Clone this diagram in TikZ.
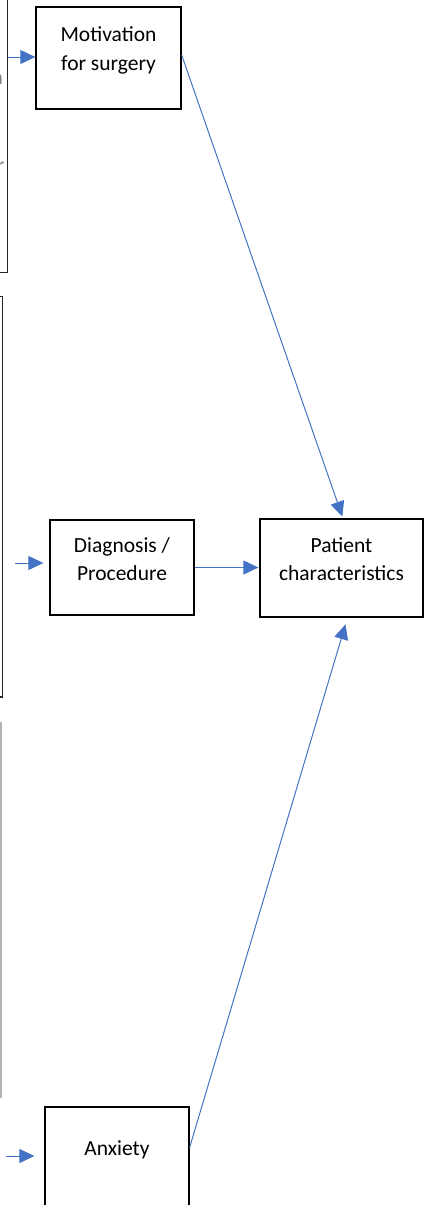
\documentclass[tikz,border=0pt]{standalone}
\usepackage{fontspec}
\setmainfont{Carlito}
\usetikzlibrary{arrows.meta}
\definecolor{arrowblue}{HTML}{4472C4}
\definecolor{fraggray}{HTML}{7F7F7F}
\tikzset{
  box/.style={draw=black, line width=1.3pt, rectangle, inner sep=0pt},
  lbl/.style={font=\fontsize{21.5pt}{29pt}\selectfont, inner sep=0pt, anchor=base},
  frag/.style={font=\fontsize{21.5pt}{29pt}\selectfont, text=fraggray, inner sep=0pt, anchor=base east},
  link/.style={draw=arrowblue, line width=1pt, -{Triangle[length=15pt,width=14pt]}},
  edgebox/.style={draw=black!85, line width=1.3pt},
  edgegray/.style={draw=black!30, line width=1.3pt}
}
\begin{document}
\begin{tikzpicture}[x=1pt,y=-1pt]
\useasboundingbox (0,0) rectangle (425,1205);

% partially visible boxes at the left edge
\draw[edgebox] (7.5,-5) -- (7.5,272.5) -- (-50,272.5);
\draw[edgebox] (-50,296.5) -- (2.5,296.5) -- (2.5,697) -- (-50,697);
\draw[edgegray] (1,722) -- (1,1098);
\node[frag] (fragA) at (3,84) {a};
\node[frag] (fragR) at (4.5,172) {r};

% main boxes
\node[box, minimum width=145pt, minimum height=102pt] (motiv) at (108.5,58) {};
\node[lbl] (motivA) at (108.5,41) {Motivation};
\node[lbl] (motivB) at (108.5,70) {for surgery};

\node[box, minimum width=144pt, minimum height=95pt] (diag) at (122,567.5) {};
\node[lbl] (diagA) at (122,552) {Diagnosis /};
\node[lbl] (diagB) at (122,580) {Procedure};

\node[box, minimum width=163pt, minimum height=98pt] (pat) at (341.5,568) {};
\node[lbl] (patA) at (341.5,552) {Patient};
\node[lbl] (patB) at (341.5,580) {characteristics};

\node[box, minimum width=144pt, minimum height=120pt] (anx) at (117,1167) {};
\node[lbl] (anxA) at (117,1155) {Anxiety};

% free ends of incoming arrows
\coordinate (inA) at (8,57);
\coordinate (inB) at (15,563);
\coordinate (inC) at (6,1156);

% connectors
\draw[link] (inA) -- (inA -| motiv.west);
\draw[link, shorten >=6pt] (inB) -- (inB -| diag.west);
\draw[link, shorten >=10pt] (inC) -- (inC -| anx.west);

\draw[link, shorten >=1pt] (diag.east) -- (diag.east -| pat.west);
\draw[link, shorten >=2pt] ([yshift=3pt]motiv.east) -- ([xshift=1.5pt]pat.north);
\draw[link, shorten >=7pt] ([yshift=-41pt]anx.north east) -- ([xshift=6pt]pat.south);
\end{tikzpicture}
\end{document}
